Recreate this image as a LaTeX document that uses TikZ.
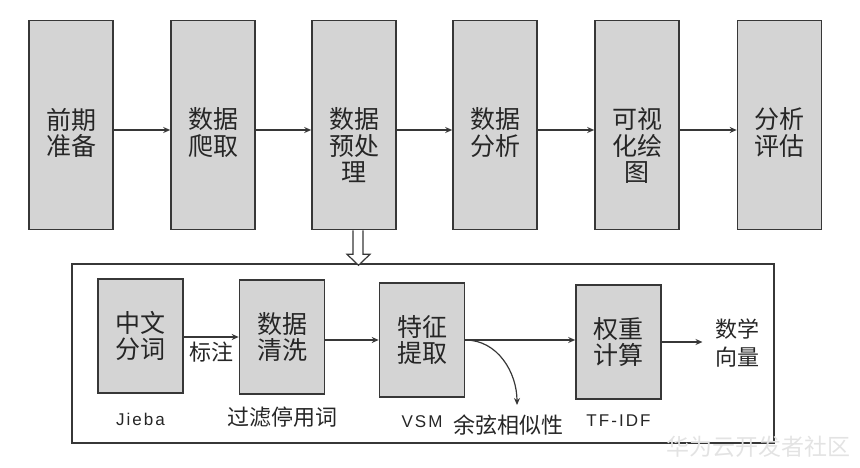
\documentclass[tikz,border=0pt]{standalone}
\usepackage{fontspec}
\setmainfont{Liberation Sans}
\newfontfamily\cjk{Noto Sans CJK SC}
\newfontfamily\wide[LetterSpace=12]{Liberation Sans}
\usetikzlibrary{arrows.meta,positioning}
\definecolor{boxgray}{RGB}{212,212,212}
\definecolor{linegray}{RGB}{55,55,55}
\tikzset{
	bigbox/.style={draw=linegray, line width=1.6pt, fill=boxgray, minimum width=84pt, minimum height=209pt, inner sep=0pt},
	smallbox/.style={bigbox, minimum height=114pt, minimum width=85pt},
	boxtxt/.style={font=\cjk\fontsize{25}{26.5}\selectfont, align=center, inner sep=0pt, text=black!85},
	note/.style={font=\cjk\fontsize{22}{28}\selectfont, align=center, text=black!85},
	latin/.style={font=\wide\fontsize{17}{20}\selectfont, text=black!85},
	flow/.style={-{Stealth[length=7pt,width=6pt]}, linegray, line width=1.2pt}
}

\begin{document}
\begin{tikzpicture}[x=1pt, y=-1pt]
		\useasboundingbox (0,0) rectangle (860,468);
		% main steps
		\foreach \i/\x/\txt in {1/71/前期\\准备,2/213/数据\\爬取,3/354/数据\\预处\\理,4/495/数据\\分析,5/637/可视\\化绘\\图,6/779.5/分析\\评估}
		{
		\node[bigbox] (t\i) at (\x,125) {};
		\node[boxtxt, anchor=north] at ([yshift=-88pt]t\i.north) {\txt};
		}
		\foreach \i/\j in {1/2,2/3,3/4,4/5,5/6}
		\draw[flow] ([yshift=-5pt]t\i.east) -- ([yshift=-5pt]t\j.west);

		% preprocessing detail
		\node[draw=linegray, line width=1.4pt, minimum width=702pt, minimum height=179pt, inner sep=0pt] (detail) at (423,353.5) {};
		\draw[linegray, line width=1.2pt, fill=white] ([xshift=-1pt]t3.south) -- ++(0,24) -- ++(-6,0) -- ++(11.5,11) -- ++(11.5,-11) -- ++(-7,0) -- ++(0,-24);

		\node[smallbox, boxtxt] (c1) at (140.5,336) {中文\\分词};
		\node[smallbox, boxtxt] (c2) at (282,337) {数据\\清洗};
		\node[smallbox, boxtxt] (c3) at (422,340) {特征\\提取};
		\node[smallbox, boxtxt] (c4) at (618.5,342) {权重\\计算};
		\node[note] (vec) at (737,343) {数学\\向量};
		\coordinate (simend) at (517,405);
		\node[note] (sim) at (508,425) {余弦相似性};

		\draw[flow] (c1.east |- c2.west) -- node[note, below, inner sep=4pt] {标注} (c2.west);
		\draw[flow] (c2.east |- c3.west) -- (c3.west);
		\draw[flow] (c3.east) -- (c3.east -| c4.west);
		\draw[flow, shorten >=9pt] (c4.east) -- (c4.east -| vec.west);
		\draw[flow] (c3.east) to[out=0, in=90] (simend);

		\node[latin, below=16pt of c1] (jieba) {Jieba};
		\node[note, below=12pt of c2, inner sep=0pt] (stop) {过滤停用词};
		\node[latin, below=14pt of c3] (vsm) {VSM};
		\node[latin, below=11pt of c4] (tfidf) {TF-IDF};

		% \node (logo) at (645,447) {};
		\node[font=\cjk\fontsize{23}{23}\selectfont, text=gray!22] (mark) at (758,447) {华为云开发者社区};
	\end{tikzpicture}
\end{document}
